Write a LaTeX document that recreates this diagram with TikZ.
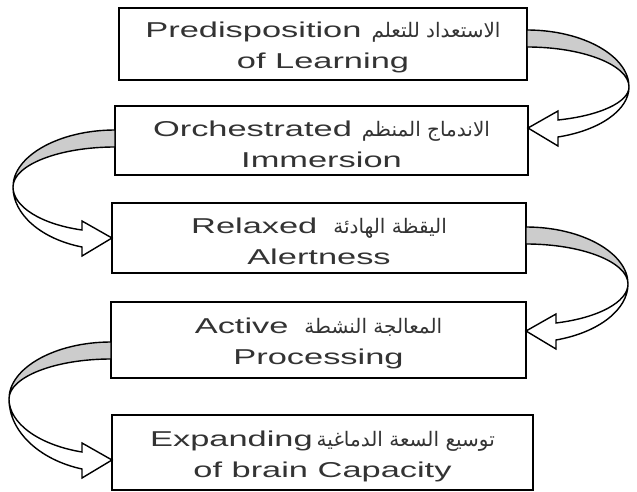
\documentclass[tikz,border=0pt]{standalone}
\usepackage{fontspec}
\setmainfont{Liberation Sans}[FakeStretch=1.6]
\newfontfamily\arabicfont[Script=Arabic]{DejaVu Sans}
\usetikzlibrary{calc}
\TeXXeTstate=1

% curved block arrow: #1 top of the band, #2 tip, #3 side (1 right, -1 left)
\newcommand{\bentarrow}[3]{%
  \filldraw[band] let \p1=(#1), \p2=(#2), \p3=({\x1+(#3)*102pt},{\y1-57pt}) in
    (\p1) .. controls ({\x1+(#3)*56pt},\y1) and (\x3,{\y3+31pt}) .. (\p3)
    .. controls (\x3,{\y3+22pt}) and ({\x1+(#3)*56pt},{\y1-17pt}) .. (\x1,{\y1-17pt}) -- cycle;
  \filldraw[shaft] let \p1=(#1), \p2=(#2), \p3=({\x1+(#3)*102pt},{\y1-57pt}), \p4=({\x2+(#3)*30pt},\y2) in
    (\p3) .. controls (\x3,{\y3-0.456*(\y3-\y4+9pt)}) and ({\x4+0.593*(\x3-\x4)},{\y4-9pt+0.134*(\y3-\y4+9pt)}) .. (\x4,{\y4-9pt})
    -- (\x4,{\y4-18pt}) -- (\p2) -- (\x4,{\y4+17pt}) -- (\x4,{\y4+8pt})
    .. controls ({\x4+0.593*(\x3-\x4)},{\y4+8pt+0.134*(\y3-\y4-8pt)}) and (\x3,{\y3-0.456*(\y3-\y4-8pt)}) .. (\p3) -- cycle;
}
\newcommand{\ar}[1]{{\arabicfont\fontsize{20}{31}\selectfont\beginR #1\endR}}

\begin{document}
\begin{tikzpicture}[
  x=1pt, y=1pt,
  box/.style={draw, line width=2.2pt, fill=white, align=center, inner sep=0pt, outer sep=0pt,
    text=black!80, text height=54pt, font=\fontsize{21.5}{31}\selectfont},
  band/.style={fill=gray!40, draw=black, line width=1.4pt},
  shaft/.style={fill=white, draw=black, line width=1.4pt, line join=miter}
]
\useasboundingbox (0,0) rectangle (637,491);
\node[box, minimum width=408, minimum height=72] (b1) at (323,447) {Predisposition\hspace{10pt}\ar{الاستعداد للتعلم}\\of Learning};
\node[box, minimum width=413, minimum height=69] (b2) at (321.5,350.5) {Orchestrated\hspace{10pt}\ar{الاندماج المنظم}\\Immersion};
\node[box, minimum width=414, minimum height=70] (b3) at (319,253) {Relaxed\hspace{16pt}\ar{اليقظة الهادئة}\\Alertness};
\node[box, minimum width=415, minimum height=76] (b4) at (318.5,151) {Active\hspace{16pt}\ar{المعالجة النشطة}\\Processing};
\node[box, minimum width=421, minimum height=75] (b5) at (322.5,38.5) {Expanding\hspace{4pt}\ar{توسيع السعة الدماغية}\\of brain Capacity};

\coordinate (s1) at ($(b1.north east)+(0,-22)$);
\coordinate (t1) at ($(b2.north east)+(0,-22)$);
\coordinate (s2) at ($(b2.north west)+(0,-24)$);
\coordinate (t2) at ($(b3.north west)+(0,-35)$);
\coordinate (s3) at ($(b3.north east)+(0,-24)$);
\coordinate (t3) at ($(b4.north east)+(0,-29)$);
\coordinate (s4) at ($(b4.north west)+(0,-40)$);
\coordinate (t4) at ($(b5.north west)+(0,-45)$);
\bentarrow{s1}{t1}{1}
\bentarrow{s2}{t2}{-1}
\bentarrow{s3}{t3}{1}
\bentarrow{s4}{t4}{-1}
\end{tikzpicture}
\end{document}
